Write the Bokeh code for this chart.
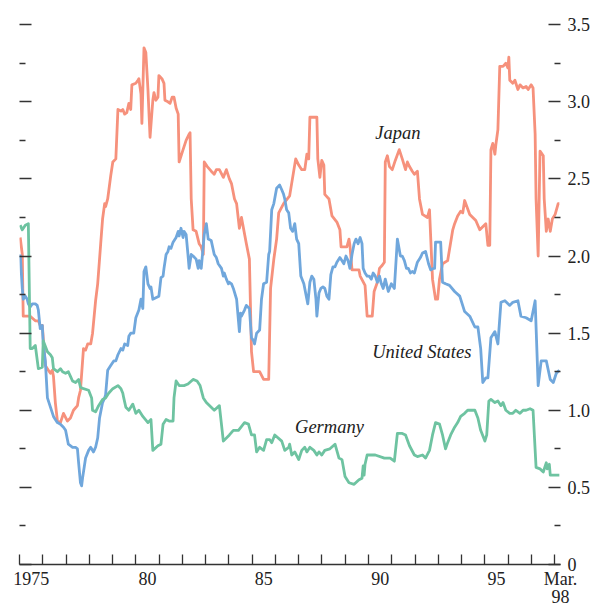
from bokeh.plotting import figure
from bokeh.models import LinearAxis, FixedTicker, Range1d, CustomJSTickFormatter
from bokeh.embed import file_html
from bokeh.resources import INLINE
from bokeh.core.properties import value

# ---------------- data ----------------
japan_year = [1975.03, 1975.12, 1975.16, 1975.46, 1975.68, 1975.81, 1975.89, 1975.98, 1976.11, 1976.24,
              1976.33, 1976.41, 1976.46, 1976.54, 1976.63, 1976.76, 1976.89, 1977.06, 1977.19, 1977.32,
              1977.49, 1977.54, 1977.62, 1977.75, 1977.84, 1977.93, 1978.06, 1978.14, 1978.27, 1978.36,
              1978.49, 1978.57, 1978.66, 1978.70, 1978.79, 1978.92, 1979.01, 1979.14, 1979.23, 1979.36,
              1979.44, 1979.52, 1979.61, 1979.70, 1979.78, 1979.83, 1980.00, 1980.09, 1980.13, 1980.22,
              1980.26, 1980.35, 1980.43, 1980.52, 1980.61, 1980.73, 1980.78, 1980.86, 1980.95, 1980.99,
              1981.12, 1981.21, 1981.25, 1981.38, 1981.47, 1981.56, 1981.64, 1981.73, 1981.82, 1981.86,
              1982.03, 1982.16, 1982.29, 1982.33, 1982.38, 1982.46, 1982.59, 1982.72, 1982.81, 1982.90,
              1982.94, 1983.07, 1983.24, 1983.37, 1983.46, 1983.59, 1983.76, 1983.89, 1984.02, 1984.11,
              1984.24, 1984.33, 1984.45, 1984.54, 1984.75, 1984.88, 1984.97, 1985.06, 1985.32, 1985.49,
              1985.71, 1985.79, 1985.93, 1986.05, 1986.14, 1986.35, 1986.61, 1986.87, 1987.00, 1987.13,
              1987.26, 1987.35, 1987.43, 1987.48, 1987.78, 1987.82, 1987.91, 1987.99, 1988.08, 1988.12,
              1988.30, 1988.43, 1988.64, 1988.77, 1988.82, 1989.07, 1989.16, 1989.20, 1989.29, 1989.59,
              1989.64, 1989.85, 1989.94, 1990.16, 1990.24, 1990.38, 1990.47, 1990.59, 1990.68, 1990.72,
              1990.81, 1990.90, 1991.02, 1991.15, 1991.32, 1991.45, 1991.59, 1991.67, 1991.76, 1991.88,
              1991.97, 1992.10, 1992.19, 1992.32, 1992.53, 1992.62, 1992.75, 1992.88, 1992.97, 1993.05,
              1993.18, 1993.40, 1993.62, 1993.70, 1993.83, 1993.96, 1994.05, 1994.13, 1994.35, 1994.48,
              1994.61, 1994.78, 1994.91, 1995.04, 1995.13, 1995.21, 1995.26, 1995.34, 1995.43, 1995.47,
              1995.56, 1995.64, 1995.78, 1995.90, 1995.99, 1996.03, 1996.07, 1996.20, 1996.29, 1996.42,
              1996.51, 1996.64, 1996.77, 1996.86, 1996.99, 1997.07, 1997.16, 1997.20, 1997.29, 1997.37,
              1997.51, 1997.55, 1997.64, 1997.72, 1997.81, 1997.90, 1998.02, 1998.15, 1998.20]
japan_value = [2.12, 2.01, 1.61, 1.61, 1.58, 1.58, 1.55, 1.55, 1.29, 1.26,
               1.24, 1.26, 1.22, 1.05, 0.93, 0.92, 0.98, 0.93, 0.95, 1.00,
               1.03, 1.08, 1.13, 1.40, 1.39, 1.43, 1.43, 1.50, 1.71, 1.82,
               2.08, 2.24, 2.34, 2.32, 2.37, 2.52, 2.61, 2.63, 2.95, 2.94,
               2.95, 2.92, 2.93, 2.99, 2.95, 3.11, 3.12, 3.14, 3.15, 3.05,
               2.86, 3.35, 3.32, 3.08, 2.77, 3.01, 3.06, 3.01, 3.03, 3.17,
               3.15, 3.12, 3.01, 3.00, 2.99, 3.03, 3.03, 2.96, 2.92, 2.61,
               2.69, 2.75, 2.79, 2.80, 2.37, 2.17, 2.16, 2.08, 2.06, 2.01,
               2.61, 2.58, 2.55, 2.53, 2.56, 2.56, 2.51, 2.56, 2.50, 2.47,
               2.37, 2.34, 2.18, 2.25, 2.08, 1.98, 1.38, 1.25, 1.25, 1.20,
               1.20, 1.79, 1.98, 2.11, 2.28, 2.34, 2.39, 2.63, 2.59, 2.56,
               2.56, 2.66, 2.63, 2.90, 2.90, 2.63, 2.51, 2.62, 2.59, 2.40,
               2.37, 2.26, 2.22, 2.17, 2.06, 2.06, 2.11, 2.07, 1.91, 1.91,
               1.87, 1.81, 1.61, 1.61, 1.77, 1.83, 1.92, 1.94, 1.96, 2.61,
               2.65, 2.58, 2.56, 2.62, 2.69, 2.63, 2.56, 2.61, 2.58, 2.55,
               2.53, 2.55, 2.37, 2.27, 2.25, 2.30, 1.85, 1.72, 1.72, 1.85,
               1.95, 1.97, 2.17, 2.21, 2.26, 2.29, 2.28, 2.36, 2.27, 2.25,
               2.23, 2.17, 2.19, 2.21, 2.07, 2.07, 2.69, 2.73, 2.66, 2.72,
               2.82, 3.23, 3.23, 3.25, 3.22, 3.29, 3.14, 3.12, 3.14, 3.08,
               3.11, 3.09, 3.10, 3.08, 3.11, 3.09, 2.79, 2.37, 2.00, 2.68,
               2.65, 2.37, 2.16, 2.24, 2.16, 2.24, 2.27, 2.34, 2.34]

us_year = [1975.03, 1975.12, 1975.16, 1975.25, 1975.33, 1975.38, 1975.46, 1975.55, 1975.68, 1975.76,
           1975.81, 1975.89, 1975.98, 1976.02, 1976.11, 1976.20, 1976.33, 1976.46, 1976.54, 1976.63,
           1976.76, 1976.89, 1976.98, 1977.10, 1977.28, 1977.41, 1977.49, 1977.54, 1977.62, 1977.67,
           1977.71, 1977.84, 1977.97, 1978.06, 1978.18, 1978.27, 1978.36, 1978.44, 1978.57, 1978.66,
           1978.70, 1978.79, 1978.92, 1979.05, 1979.14, 1979.23, 1979.36, 1979.44, 1979.52, 1979.65,
           1979.70, 1979.78, 1979.91, 1980.00, 1980.13, 1980.22, 1980.30, 1980.35, 1980.43, 1980.52,
           1980.61, 1980.65, 1980.73, 1980.86, 1980.99, 1981.08, 1981.17, 1981.21, 1981.30, 1981.38,
           1981.43, 1981.51, 1981.60, 1981.73, 1981.82, 1981.86, 1981.94, 1982.03, 1982.07, 1982.16,
           1982.24, 1982.29, 1982.38, 1982.46, 1982.59, 1982.68, 1982.72, 1982.81, 1982.94, 1983.03,
           1983.11, 1983.24, 1983.37, 1983.46, 1983.54, 1983.68, 1983.76, 1983.80, 1983.89, 1983.98,
           1984.02, 1984.11, 1984.19, 1984.33, 1984.45, 1984.50, 1984.54, 1984.67, 1984.75, 1984.88,
           1984.97, 1985.06, 1985.10, 1985.19, 1985.32, 1985.40, 1985.49, 1985.62, 1985.71, 1985.75,
           1985.84, 1985.93, 1986.05, 1986.18, 1986.27, 1986.35, 1986.40, 1986.48, 1986.57, 1986.65,
           1986.74, 1986.83, 1986.91, 1987.00, 1987.09, 1987.22, 1987.35, 1987.39, 1987.48, 1987.56,
           1987.65, 1987.74, 1987.78, 1987.87, 1987.95, 1988.04, 1988.12, 1988.21, 1988.30, 1988.38,
           1988.47, 1988.56, 1988.64, 1988.77, 1988.86, 1988.94, 1989.03, 1989.12, 1989.20, 1989.29,
           1989.38, 1989.46, 1989.55, 1989.64, 1989.72, 1989.77, 1989.85, 1989.94, 1990.03, 1990.12,
           1990.20, 1990.29, 1990.38, 1990.47, 1990.55, 1990.63, 1990.72, 1990.85, 1990.98, 1991.11,
           1991.24, 1991.37, 1991.45, 1991.54, 1991.63, 1991.71, 1991.80, 1991.88, 1991.97, 1992.10,
           1992.23, 1992.32, 1992.45, 1992.58, 1992.67, 1992.79, 1992.84, 1992.88, 1993.10, 1993.18,
           1993.31, 1993.48, 1993.70, 1993.92, 1994.13, 1994.35, 1994.57, 1994.70, 1994.82, 1994.91,
           1995.04, 1995.13, 1995.26, 1995.43, 1995.56, 1995.69, 1995.86, 1996.07, 1996.20, 1996.42,
           1996.55, 1996.77, 1996.99, 1997.16, 1997.29, 1997.42, 1997.64, 1997.81, 1997.94, 1998.07,
           1998.20]
us_value = [2.01, 1.79, 1.72, 1.74, 1.72, 1.69, 1.67, 1.69, 1.69, 1.68,
            1.65, 1.53, 1.55, 1.43, 1.32, 1.08, 1.02, 0.96, 0.94, 0.92,
            0.91, 0.89, 0.87, 0.78, 0.76, 0.76, 0.75, 0.66, 0.53, 0.51,
            0.56, 0.69, 0.74, 0.76, 0.73, 0.76, 0.82, 0.95, 1.05, 1.08,
            1.10, 1.26, 1.29, 1.32, 1.32, 1.36, 1.40, 1.39, 1.43, 1.42,
            1.48, 1.50, 1.50, 1.60, 1.65, 1.72, 1.66, 1.90, 1.93, 1.82,
            1.79, 1.80, 1.72, 1.73, 1.74, 1.86, 1.87, 1.92, 2.01, 2.03,
            2.06, 2.05, 2.09, 2.12, 2.16, 2.13, 2.18, 2.12, 2.16, 2.14,
            2.01, 1.92, 2.01, 2.00, 1.98, 1.92, 1.97, 1.92, 2.14, 2.21,
            2.11, 2.10, 2.01, 1.99, 1.95, 1.92, 1.87, 1.89, 1.85, 1.82,
            1.83, 1.82, 1.79, 1.72, 1.51, 1.63, 1.61, 1.65, 1.68, 1.66,
            1.47, 1.45, 1.43, 1.50, 1.52, 1.72, 1.82, 1.83, 2.01, 2.03,
            2.30, 2.34, 2.44, 2.46, 2.43, 2.40, 2.37, 2.30, 2.28, 2.18,
            2.16, 2.21, 2.11, 2.08, 1.87, 1.82, 1.72, 1.69, 1.83, 1.87,
            1.85, 1.72, 1.61, 1.76, 1.79, 1.80, 1.79, 1.74, 1.72, 1.88,
            1.93, 1.93, 1.96, 1.99, 1.97, 1.95, 2.00, 1.97, 1.92, 2.01,
            2.08, 2.11, 2.08, 2.12, 2.08, 1.92, 1.89, 1.87, 1.87, 1.85,
            1.89, 1.87, 1.83, 1.87, 1.82, 1.79, 1.85, 1.77, 1.82, 1.79,
            2.11, 2.00, 2.00, 1.97, 1.92, 1.92, 1.89, 1.90, 1.89, 1.96,
            1.99, 2.02, 2.03, 1.95, 1.91, 1.92, 1.92, 2.09, 2.09, 1.83,
            1.82, 1.81, 1.77, 1.74, 1.64, 1.61, 1.54, 1.54, 1.40, 1.18,
            1.21, 1.21, 1.47, 1.51, 1.43, 1.70, 1.71, 1.68, 1.70, 1.71,
            1.61, 1.60, 1.58, 1.71, 1.16, 1.32, 1.32, 1.20, 1.18, 1.24,
            1.26]

germany_year = [1975.03, 1975.12, 1975.25, 1975.38, 1975.46, 1975.55, 1975.68, 1975.81, 1975.98, 1976.02,
                1976.20, 1976.33, 1976.41, 1976.46, 1976.63, 1976.76, 1976.85, 1976.98, 1977.10, 1977.19,
                1977.28, 1977.41, 1977.54, 1977.62, 1977.75, 1977.97, 1978.10, 1978.14, 1978.27, 1978.40,
                1978.57, 1978.70, 1978.83, 1979.01, 1979.23, 1979.36, 1979.44, 1979.48, 1979.57, 1979.70,
                1979.87, 1980.00, 1980.13, 1980.30, 1980.52, 1980.65, 1980.73, 1980.95, 1981.08, 1981.17,
                1981.30, 1981.43, 1981.60, 1981.64, 1981.73, 1981.86, 1982.07, 1982.24, 1982.46, 1982.63,
                1982.76, 1982.90, 1983.03, 1983.37, 1983.59, 1983.76, 1984.02, 1984.19, 1984.41, 1984.67,
                1984.84, 1984.97, 1985.10, 1985.19, 1985.32, 1985.49, 1985.62, 1985.75, 1985.84, 1985.97,
                1986.27, 1986.40, 1986.57, 1986.61, 1986.70, 1986.83, 1987.00, 1987.13, 1987.26, 1987.35,
                1987.48, 1987.65, 1987.78, 1987.87, 1987.99, 1988.12, 1988.34, 1988.56, 1988.73, 1988.86,
                1988.99, 1989.16, 1989.38, 1989.59, 1989.72, 1989.77, 1989.81, 1989.85, 1989.94, 1990.29,
                1990.68, 1990.93, 1991.11, 1991.24, 1991.45, 1991.59, 1991.76, 1991.97, 1992.10, 1992.32,
                1992.45, 1992.62, 1992.75, 1992.88, 1993.05, 1993.18, 1993.31, 1993.40, 1993.53, 1993.70,
                1993.83, 1993.96, 1994.13, 1994.26, 1994.39, 1994.57, 1994.70, 1994.82, 1995.00, 1995.08,
                1995.17, 1995.26, 1995.43, 1995.56, 1995.69, 1995.78, 1995.90, 1996.07, 1996.20, 1996.33,
                1996.51, 1996.64, 1996.77, 1996.94, 1997.07, 1997.20, 1997.37, 1997.51, 1997.64, 1997.68,
                1997.77, 1997.81, 1997.94, 1998.15, 1998.20]
germany_value = [2.20, 2.17, 2.20, 2.21, 1.40, 1.40, 1.42, 1.27, 1.28, 1.45,
                 1.38, 1.36, 1.34, 1.27, 1.25, 1.27, 1.25, 1.24, 1.25, 1.22,
                 1.19, 1.18, 1.20, 1.15, 1.14, 1.13, 1.08, 1.00, 0.99, 1.03,
                 1.07, 1.08, 1.11, 1.14, 1.16, 1.14, 1.11, 1.08, 1.02, 1.00,
                 1.04, 0.98, 1.00, 0.96, 0.92, 0.94, 0.74, 0.77, 0.78, 0.91,
                 0.94, 0.93, 0.93, 1.08, 1.19, 1.16, 1.16, 1.17, 1.20, 1.19,
                 1.16, 1.08, 1.05, 1.00, 1.03, 0.80, 0.84, 0.87, 0.87, 0.92,
                 0.91, 0.84, 0.84, 0.73, 0.76, 0.74, 0.81, 0.81, 0.79, 0.84,
                 0.80, 0.74, 0.76, 0.78, 0.71, 0.73, 0.68, 0.74, 0.76, 0.73,
                 0.76, 0.74, 0.71, 0.73, 0.71, 0.74, 0.75, 0.78, 0.69, 0.68,
                 0.57, 0.53, 0.52, 0.55, 0.56, 0.64, 0.58, 0.65, 0.71, 0.71,
                 0.69, 0.69, 0.67, 0.85, 0.85, 0.84, 0.77, 0.71, 0.70, 0.71,
                 0.69, 0.74, 0.84, 0.92, 0.91, 0.84, 0.75, 0.79, 0.84, 0.89,
                 0.92, 0.96, 0.98, 1.00, 1.00, 1.00, 0.95, 0.87, 0.80, 0.84,
                 1.06, 1.07, 1.05, 1.06, 1.03, 1.05, 1.00, 0.98, 0.98, 1.00,
                 0.98, 1.00, 1.00, 1.01, 1.00, 0.63, 0.62, 0.60, 0.66, 0.62,
                 0.65, 0.58, 0.58, 0.58, 0.58]

series_names = ["Japan", "United States", "Germany"]
series_label_x = [1991.26, 1992.29, 1988.32]
series_label_y = [2.80, 1.38, 0.89]

year_ticks = list(range(1975, 1999))
year_label_pos = [1975.5, 1980.5, 1985.5, 1990.5, 1995.5, 1998.25]
year_label_text = ["1975", "80", "85", "90", "95", "Mar.\n98"]

y_major = [0.0, 0.5, 1.0, 1.5, 2.0, 2.5, 3.0, 3.5]
y_minor = [0.25, 0.75, 1.25, 1.75, 2.25, 2.75, 3.25]

X_START, X_END = 1975.0, 1998.25

# ---------------- styling ----------------
JAPAN_C = "#F6917C"
US_C = "#70A7DC"
GER_C = "#6EC3A1"
INK = "#333333"
TXT = "#222222"
FONT = "Liberation Serif"

p = figure(width=593, height=609, output_backend="svg", toolbar_location=None,
           x_range=Range1d(X_START, X_END), y_range=Range1d(0, 3.605),
           min_border_left=19, min_border_right=0, min_border_top=8, min_border_bottom=0)
p.outline_line_color = None
p.xgrid.visible = False
p.ygrid.visible = False
p.background_fill_color = "white"
p.border_fill_color = "white"

p.line(japan_year, japan_value, line_color=JAPAN_C, line_width=2.8, line_join="round")
p.line(us_year, us_value, line_color=US_C, line_width=2.8, line_join="round")
p.line(germany_year, germany_value, line_color=GER_C, line_width=2.8, line_join="round")

p.text(x=series_label_x, y=series_label_y, text=series_names,
       text_font=value(FONT), text_font_style="italic", text_font_size="18.5px",
       text_color=TXT, text_align="center", text_baseline="middle")


def style_ticks(ax, ticks, minor, major_len, minor_len):
    ax.ticker = FixedTicker(ticks=ticks, minor_ticks=minor)
    ax.major_tick_in = major_len
    ax.major_tick_out = 0
    ax.minor_tick_in = minor_len
    ax.minor_tick_out = 0
    ax.major_tick_line_color = INK
    ax.minor_tick_line_color = INK
    ax.major_tick_line_width = 1.3
    ax.minor_tick_line_width = 1.3
    ax.major_label_text_font = FONT
    ax.major_label_text_font_size = "18px"
    ax.major_label_text_color = TXT


# left axis: ticks only
la = p.yaxis[0]
style_ticks(la, y_major, y_minor, 12, 6)
la.formatter = CustomJSTickFormatter(code="return '';")
la.major_label_standoff = 0
la.axis_line_color = None

# right axis with labels
ra = LinearAxis(formatter=CustomJSTickFormatter(code="return tick == 0 ? '0' : tick.toFixed(1);"))
style_ticks(ra, y_major, y_minor, 12, 6)
ra.axis_line_color = None
ra.major_label_standoff = 7
p.add_layout(ra, "right")

# bottom axis: year ticks, labels centred in mid-year
xa = p.xaxis[0]
style_ticks(xa, year_label_pos, year_ticks, 0, 10)
xa.major_label_overrides = dict(zip(year_label_pos, year_label_text))
xa.axis_line_color = INK
xa.axis_line_width = 1.3
xa.major_label_standoff = 4
xa.major_label_text_line_height = 0.9

open("out.html", "w").write(file_html(p, INLINE))
